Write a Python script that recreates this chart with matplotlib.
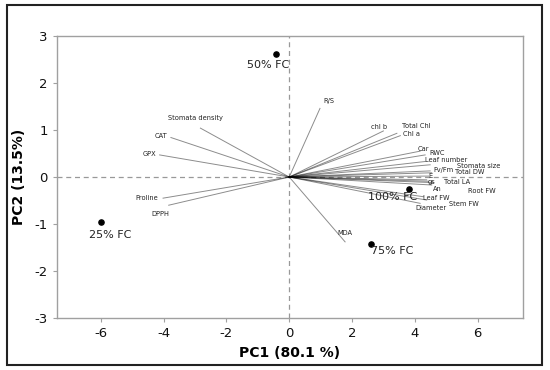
import numpy as np
import matplotlib
matplotlib.use("Agg")
import matplotlib.pyplot as plt
from matplotlib.patches import Rectangle

plt.rcParams["axes.unicode_minus"] = False

##############################################################
# scores of the treatments
groups = ["25% FC", "50% FC", "75% FC", "100% FC"]
score_x = [-5.99, -0.42, 2.61, 3.83]
score_y = [-0.96, 2.61, -1.43, -0.25]
group_lab_x = [-5.72, -0.66, 3.28, 3.28]
group_lab_y = [-1.24, 2.38, -1.57, -0.42]

# loadings of the traits (line end, label position)
traits = ["R/S", "Stomata density", "CAT", "GPX", "Proline", "DPPH", "MDA",
          "chl b", "Total Chl", "Chl a", "Car", "RWC", "Leaf number",
          "Stomata size", "Fv/Fm", "Total DW", "E", "gs", "Total LA", "An",
          "Root FW", "Leaf FW", "Stem FW", "Diameter"]
load_x = [0.98, -2.83, -3.77, -4.13, -4.02, -3.84, 1.78,
          3.0, 3.43, 3.54, 4.17, 4.33, 4.33,
          4.49, 4.49, 4.54, 4.44, 4.38, 4.44, 4.54,
          4.6, 4.28, 4.38, 4.17]
load_y = [1.46, 1.04, 0.84, 0.47, -0.45, -0.6, -1.38,
          0.98, 0.93, 0.88, 0.55, 0.47, 0.33,
          0.26, 0.13, 0.09, 0.02, -0.06, -0.09, -0.17,
          -0.12, -0.42, -0.49, -0.56]
lab_x = [1.25, -2.99, -4.08, -4.45, -4.55, -4.11, 1.78,
         2.87, 4.04, 3.89, 4.28, 4.70, 4.99,
         6.05, 4.91, 5.76, 4.5, 4.54, 5.36, 4.72,
         6.15, 4.70, 5.57, 4.52]
lab_y = [1.61, 1.25, 0.87, 0.49, -0.45, -0.79, -1.2,
         1.06, 1.09, 0.91, 0.60, 0.52, 0.36,
         0.24, 0.15, 0.11, 0.02, -0.10, -0.10, -0.26,
         -0.29, -0.44, -0.57, -0.67]

##############################################################

fig = plt.figure(figsize=(5.5, 3.7), dpi=100)
ax = fig.add_axes([0.1036, 0.1405, 0.8474, 0.7622])

ax.axhline(0, color="#999999", lw=0.9, ls=(0, (4, 3)), zorder=1)
ax.axvline(0, color="#999999", lw=0.9, ls=(0, (4, 3)), zorder=1)

for i in range(len(traits)):
    ax.plot([0, load_x[i]], [0, load_y[i]], color="black", alpha=0.45, lw=0.7, zorder=2)
    ax.text(lab_x[i], lab_y[i], traits[i], fontsize=4.8, ha="center", va="center",
            color="#222222", zorder=3)

ax.scatter(score_x, score_y, s=14, color="black", zorder=4)
for i in range(len(groups)):
    ax.text(group_lab_x[i], group_lab_y[i], groups[i], fontsize=8, ha="center",
            va="center", color="#222222", zorder=4)

ax.set_xlim(-7.4, 7.45)
ax.set_ylim(-3, 3)
ax.set_xticks([-6, -4, -2, 0, 2, 4, 6])
ax.set_yticks([-3, -2, -1, 0, 1, 2, 3])

for s in ax.spines.values():
    s.set_color("#a0a0a0")
    s.set_linewidth(1.0)
ax.tick_params(colors="#a0a0a0", labelcolor="#111111", labelsize=9.5, length=3, width=0.8)

ax.set_xlabel("PC1 (80.1 %)", fontsize=10, fontweight="bold", labelpad=4)
ax.set_ylabel("PC2 (13.5%)", fontsize=10, fontweight="bold", labelpad=6)

fig.patches.append(Rectangle((7 / 550, 5 / 370), 535 / 550, 360 / 370, transform=fig.transFigure,
                             fill=False, edgecolor="#222222", lw=1.5))

fig.savefig("out.png", dpi=100)
